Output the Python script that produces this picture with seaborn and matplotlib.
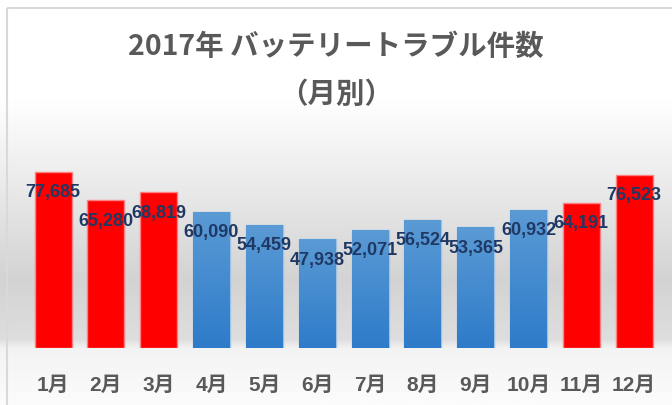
import numpy as np
import seaborn as sns
import matplotlib.pyplot as plt
from matplotlib.colors import LinearSegmentedColormap
from matplotlib.patches import Rectangle

# data
months = ["1月", "2月", "3月", "4月", "5月", "6月",
          "7月", "8月", "9月", "10月", "11月", "12月"]
counts = [77685, 65280, 68819, 60090, 54459, 47938,
          52071, 56524, 53365, 60932, 64191, 76523]
red_months = ["1月", "2月", "3月", "11月", "12月"]

RED = "#FF0000"
BLUE_TOP = "#5B9BD5"
BLUE_BOTTOM = "#2E7BC9"
colors = [RED if m in red_months else BLUE_TOP for m in months]

sns.set_style("white")
plt.rcParams["font.family"] = ["Liberation Sans", "Noto Sans CJK JP", "DejaVu Sans"]

W, H = 672, 405
fig = plt.figure(figsize=(W / 100, H / 100), dpi=100)

# background gradient over whole figure
bg = fig.add_axes([0, 0, 1, 1], zorder=-10)
bg.set_axis_off()
stops = [(0.0, "#FFFFFF"), (100 / H, "#FFFFFF"), (280 / H, "#D3D3D3"),
         (340 / H, "#DEDEDE"), (349 / H, "#F3F3F3"), (1.0, "#FCFCFC")]
bg_cmap = LinearSegmentedColormap.from_list("bg", stops)
grad = np.linspace(0, 1, 512).reshape(-1, 1)
bg.imshow(grad, cmap=bg_cmap, aspect="auto", extent=[0, 1, 1, 0])
bg.set_xlim(0, 1)
bg.set_ylim(1, 0)
bg.add_patch(Rectangle((6.5 / W, 7.5 / H), 1.2, 1.2, fill=False,
                       edgecolor="#D9D9D9", linewidth=1.5))

# plot area
base_y, top_y = 348, 110
left_px, right_px = 26.6, 660.6
ax = fig.add_axes([left_px / W, (H - base_y) / H,
                   (right_px - left_px) / W, (base_y - top_y) / H])
ax.patch.set_alpha(0)

sns.barplot(x=months, y=counts, hue=months, palette=colors, legend=False,
            width=0.7, ax=ax, saturation=1)
ax.set_xlim(-0.5, 11.5)
ax.set_ylim(0, 105000)

blue_cmap = LinearSegmentedColormap.from_list("blue", [BLUE_BOTTOM, BLUE_TOP])
for patch, m, c in zip(ax.patches, months, counts):
    if m in red_months:
        patch.set_edgecolor("#FF8080")
    else:
        patch.set_edgecolor("#9DC3E6")
        x0, w = patch.get_x(), patch.get_width()
        img = ax.imshow(np.linspace(0, 1, 256).reshape(-1, 1), cmap=blue_cmap,
                        origin="lower", aspect="auto",
                        extent=[x0, x0 + w, 0, patch.get_height()],
                        zorder=patch.get_zorder() + 0.1)
        img.set_clip_path(patch)
    patch.set_linewidth(1.0)
    ax.annotate(f"{c:,}", (patch.get_x() + patch.get_width() / 2, c),
                xytext=(0, -21), textcoords="offset pixels",
                ha="center", va="center", fontsize=13, fontweight="bold",
                color="#1F3864", zorder=5)

ax.set_xlim(-0.5, 11.5)
ax.set_ylim(0, 105000)
ax.set_yticks([])
ax.set_xlabel("")
ax.set_ylabel("")
for s in ax.spines.values():
    s.set_visible(False)
ax.tick_params(axis="x", length=0, pad=20, labelsize=15, labelcolor="#595959")
for t in ax.get_xticklabels():
    t.set_fontweight("bold")

fig.text(0.5, 1 - 47 / H, "2017年 バッテリートラブル件数", ha="center", va="center",
         fontsize=20.5, fontweight="bold", color="#595959",
         family=["Noto Sans CJK JP", "DejaVu Sans"])
fig.text(0.5, 1 - 95 / H, "（月別）", ha="center", va="center",
         fontsize=20.5, fontweight="bold", color="#595959",
         family=["Noto Sans CJK JP", "DejaVu Sans"])

fig.savefig("out.png", dpi=100)
